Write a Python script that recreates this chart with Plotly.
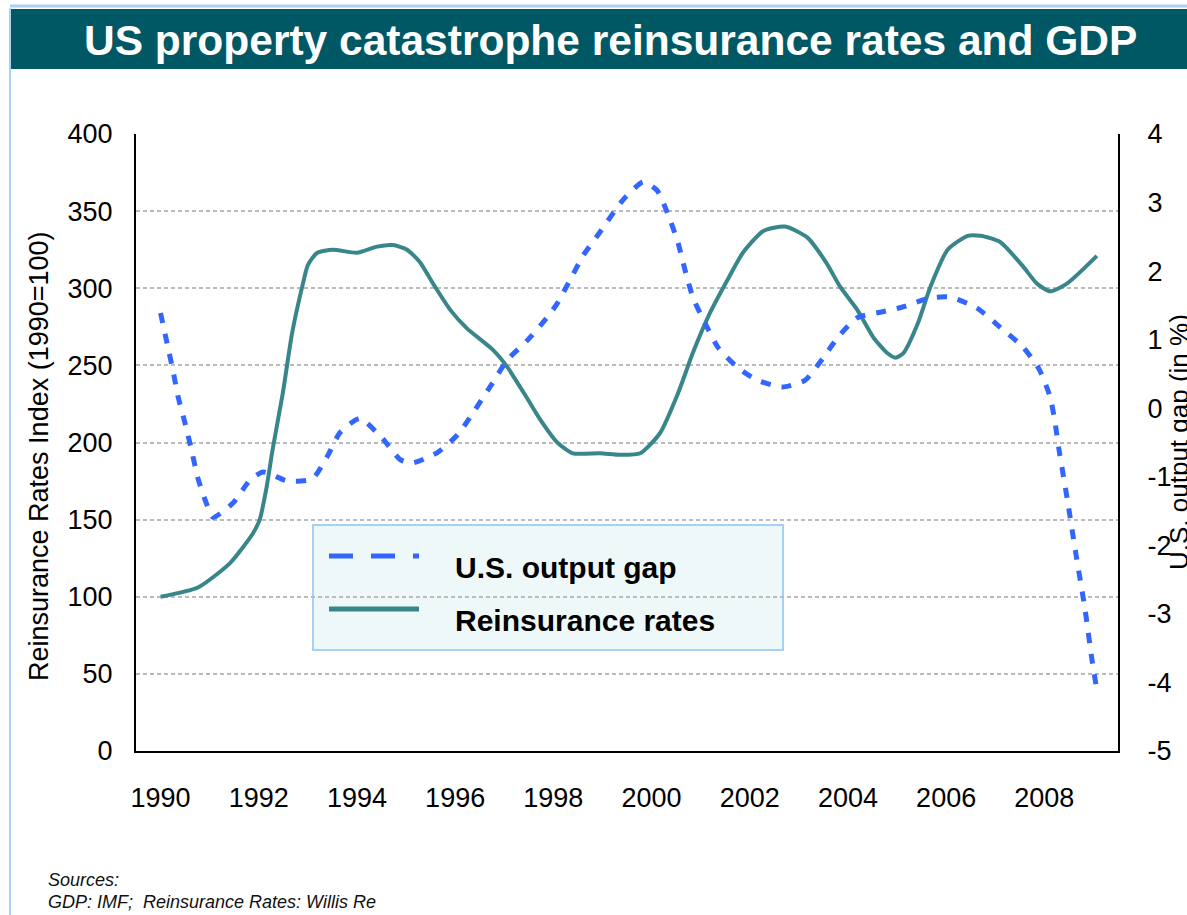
import plotly.graph_objects as go

# Reinsurance rates index (left axis, 1990=100)
rates_year = [1990.0, 1990.76, 1991.42, 1991.88, 1992.02, 1992.16, 1992.28, 1992.49, 1992.68, 1992.9,
              1993.0, 1993.19, 1993.51, 1994.0, 1994.41, 1994.73, 1995.02, 1995.28, 1995.55, 1995.9,
              1996.24, 1996.77, 1997.06, 1997.46, 1997.73, 1998.08, 1998.4, 1998.95, 1999.36, 1999.77,
              2000.17, 2000.54, 2000.84, 2001.19, 2001.54, 2001.86, 2002.27, 2002.72, 2003.17, 2003.57,
              2003.84, 2004.19, 2004.52, 2004.8, 2004.97, 2005.13, 2005.42, 2005.68, 2006.03, 2006.44,
              2006.7, 2007.1, 2007.57, 2007.85, 2008.12, 2008.46, 2009.07]
rates_index = [100, 106, 122, 141, 150, 171, 195, 232, 271, 303,
               315, 323, 325, 323, 327, 328, 325, 317, 303, 286,
               274, 260, 249, 229, 215, 200, 193, 193, 192, 193,
               206, 232, 258, 284, 305, 323, 337, 340, 333, 316,
               301, 286, 268, 258, 255, 258, 277, 301, 325, 334,
               334, 330, 314, 303, 298, 303, 321]

# US output gap in % (right axis)
gap_year = [1990.0, 1990.15, 1990.25, 1990.36, 1990.5, 1990.64, 1990.76, 1990.93, 1991.07, 1991.48,
            1991.82, 1992.09, 1992.58, 1993.09, 1993.39, 1993.66, 1994.06, 1994.53, 1994.88, 1995.12,
            1995.63, 1996.06, 1996.36, 1996.71, 1997.06, 1997.47, 1997.88, 1998.08, 1998.34, 1998.61,
            1998.95, 1999.42, 1999.83, 2000.11, 2000.34, 2000.54, 2000.68, 2000.84, 2001.09, 2001.36,
            2001.76, 2002.15, 2002.66, 2003.13, 2003.49, 2003.8, 2004.19, 2004.66, 2005.13, 2005.68,
            2006.09, 2006.63, 2007.1, 2007.57, 2007.9, 2008.12, 2008.22, 2008.3, 2008.47, 2008.63,
            2008.83, 2008.97, 2009.07]
output_gap = [1.39, 0.89, 0.56, 0.16, -0.22, -0.64, -1.02, -1.38, -1.59, -1.38,
              -1.05, -0.93, -1.06, -1.03, -0.71, -0.35, -0.15, -0.45, -0.75, -0.80,
              -0.65, -0.38, -0.07, 0.31, 0.70, 0.99, 1.33, 1.53, 1.87, 2.23,
              2.57, 3.04, 3.30, 3.18, 2.82, 2.41, 2.02, 1.62, 1.24, 0.88,
              0.59, 0.41, 0.31, 0.41, 0.73, 1.04, 1.32, 1.40, 1.48, 1.61,
              1.62, 1.46, 1.18, 0.89, 0.56, 0.16, -0.22, -0.61, -1.34, -2.07,
              -2.94, -3.67, -4.11]

x_ticks = [1990, 1992, 1994, 1996, 1998, 2000, 2002, 2004, 2006, 2008]
gap_ticks = [4, 3, 2, 1, 0, -1, -2, -3, -4, -5]
gap_tick_text = ["4", "3", "2", "1", "0", "-1", "-2", "-3", "-4", "-5"]
legend_names = ["U.S. output gap", "Reinsurance rates"]

W, H = 1187, 915
L, R, T, B = 136, 1118, 134, 751  # plot area in pixels

BLUE = "#3366FF"
TEAL = "#38868A"
FONT = "Arial, Liberation Sans, sans-serif"


def px_x(p):
    return (p - L) / (R - L)


def px_y(p):
    return (B - p) / (B - T)


def note(text, x, y, size, xanchor="center", angle=0, color="black"):
    return dict(text=text, x=px_x(x), y=px_y(y), xref="paper", yref="paper",
                xanchor=xanchor, yanchor="middle", textangle=angle, showarrow=False,
                font=dict(family=FONT, size=size, color=color))


fig = go.Figure()
fig.add_trace(go.Scatter(x=gap_year, y=output_gap, yaxis="y2", mode="lines",
                         line=dict(color=BLUE, width=5, dash="10px,11px", shape="spline", smoothing=0.6),
                         showlegend=False))
fig.add_trace(go.Scatter(x=rates_year, y=rates_index, mode="lines",
                         line=dict(color=TEAL, width=4, shape="spline", smoothing=0.6),
                         showlegend=False))

shapes = [
    # page border and title bar
    dict(type="line", xref="paper", yref="paper", x0=px_x(10), x1=px_x(10), y0=px_y(8), y1=px_y(915),
         line=dict(color="#A9D1F5", width=2)),
    dict(type="line", xref="paper", yref="paper", x0=px_x(10), x1=px_x(1187), y0=px_y(6), y1=px_y(6),
         line=dict(color="#A9D1F5", width=3)),
    dict(type="rect", xref="paper", yref="paper", x0=px_x(11), x1=px_x(1187), y0=px_y(69), y1=px_y(9),
         fillcolor="#005864", line=dict(width=0)),
    # legend box
    dict(type="rect", xref="paper", yref="paper", x0=px_x(313), x1=px_x(783), y0=px_y(650), y1=px_y(525),
         fillcolor="#EFF8F8", line=dict(color="#A6D0F5", width=2), layer="below"),
    dict(type="line", xref="paper", yref="paper", x0=px_x(329), x1=px_x(419), y0=px_y(556), y1=px_y(556),
         line=dict(color=BLUE, width=5, dash="24px,18px")),
    dict(type="line", xref="paper", yref="paper", x0=px_x(329), x1=px_x(419), y0=px_y(609), y1=px_y(609),
         line=dict(color=TEAL, width=5)),
]

annotations = [
    note("<b>US property catastrophe reinsurance rates and GDP</b>", 610, 40, 42.5, color="white"),
    note("<b>" + legend_names[0] + "</b>", 453, 567, 30, xanchor="left"),
    note("<b>" + legend_names[1] + "</b>", 453, 620, 30, xanchor="left"),
    note("Reinsurance Rates Index (1990=100)", 39, 456, 27, angle=-90),
    note("U.S. output gap (in %)", 1162, 442, 26, xanchor="left", angle=-90),
    note("<i>Sources:</i>", 46, 880, 18, xanchor="left", color="#111111"),
    note("<i>GDP: IMF;  Reinsurance Rates: Willis Re</i>", 46, 902, 18, xanchor="left", color="#111111"),
]

fig.update_layout(
    width=W, height=H,
    margin=dict(l=L, r=W - R, t=T, b=H - B, pad=0),
    paper_bgcolor="white", plot_bgcolor="rgba(0,0,0,0)",
    font=dict(family=FONT, size=27, color="black"),
    shapes=shapes, annotations=annotations,
    xaxis=dict(range=[1989.5, 2009.5], tickvals=x_ticks, showgrid=False, zeroline=False,
               showline=True, linecolor="black", linewidth=2, ticks="", ticklabelstandoff=22,
               tickfont=dict(size=27)),
    yaxis=dict(range=[0, 400], dtick=50, showgrid=True, gridcolor="#BBBBBB", gridwidth=1.5,
               griddash="4px,3px", zeroline=False, showline=True, linecolor="black", linewidth=2,
               ticks="", ticklabelstandoff=16, tickfont=dict(size=27)),
    yaxis2=dict(range=[-5, 4], tickvals=gap_ticks, ticktext=gap_tick_text, overlaying="y", side="right",
                showgrid=False, zeroline=False, showline=True, linecolor="black", linewidth=2,
                ticks="", ticklabelstandoff=22, tickfont=dict(size=27)),
)

# the page body has a default margin; drop it so the figure fills the window
fig.write_html("out.html", config={"displayModeBar": False},
               post_script="document.body.style.margin='0';document.body.style.overflow='hidden';")
